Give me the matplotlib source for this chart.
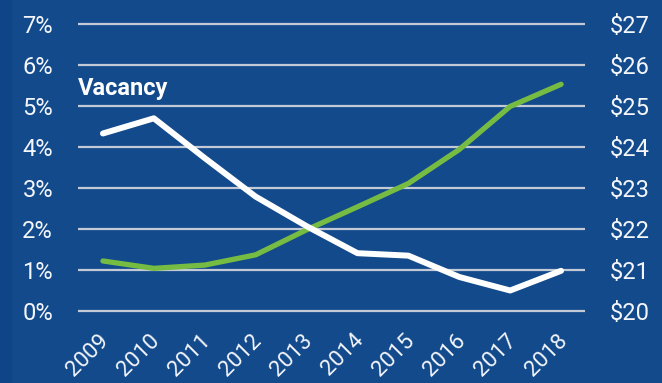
import matplotlib
matplotlib.use("Agg")
import matplotlib.pyplot as plt
from matplotlib.patches import Rectangle
from matplotlib.transforms import ScaledTranslation

plt.rcParams['font.family'] = ['Roboto', 'DejaVu Sans']

years = ["2009", "2010", "2011", "2012", "2013", "2014", "2015", "2016", "2017", "2018"]
vacancy_pct = [4.33, 4.70, 3.73, 2.79, 2.07, 1.41, 1.35, 0.83, 0.50, 0.98]
rent_usd = [21.22, 21.04, 21.12, 21.37, 21.98, 22.54, 23.11, 23.94, 24.99, 25.53]
pct_ticks = [0, 1, 2, 3, 4, 5, 6, 7]
pct_labels = [f"{v}%" for v in pct_ticks]
rent_ticks = [20, 21, 22, 23, 24, 25, 26, 27]
rent_labels = [f"${v}" for v in rent_ticks]

BG = "#124a8c"
GRID = "#c3cad6"
GREEN = "#76bc43"
TXT = "#f4f6fa"
FS = 17

W, H = 662, 383
fig = plt.figure(figsize=(W / 100, H / 100), dpi=100, facecolor=BG)
fig.patches.append(Rectangle((0, 0), 12 / W, 1, transform=fig.transFigure,
                             facecolor="#0f4588", edgecolor="none", zorder=0))

# axes box in pixels: x 78..585, y 19.9..315.1 (0%..7% at 311..24)
left, right = 78 / W, 585 / W
top, bottom = 1 - 19.9 / H, 1 - 315.1 / H
ax = fig.add_axes([left, bottom, right - left, top - bottom])
ax2 = ax.twinx()

x = list(range(len(years)))
ax.set_xlim(-0.49, 9.47)
ax.set_ylim(-0.1, 7.1)
ax2.set_ylim(19.9, 27.1)

for v in pct_ticks:
    ax2.axhline(20 + v, color=GRID, lw=1.6, zorder=1)

ax2.plot(x, rent_usd, color=GREEN, lw=3.8, solid_capstyle="round",
         solid_joinstyle="round", zorder=3)
ax.plot(x, vacancy_pct, color="white", lw=4.3, solid_capstyle="round",
        solid_joinstyle="round", zorder=4)
ax.set_zorder(ax2.get_zorder() + 1)
ax.patch.set_visible(False)
ax2.patch.set_visible(False)

ax.set_yticks(pct_ticks)
ax.set_yticklabels(pct_labels)
ax2.set_yticks(rent_ticks)
ax2.set_yticklabels(rent_labels)
ax.set_xticks(x)
ax.set_xticklabels(years, rotation=45, ha="right", va="center",
                   rotation_mode="anchor")

for a in (ax, ax2):
    for s in a.spines.values():
        s.set_visible(False)
    a.tick_params(length=0, colors=TXT, labelsize=FS)
ax.tick_params(axis="y", pad=18)
ax2.tick_params(axis="y", pad=18)
ax.tick_params(axis="x", pad=16, labelsize=16)

shift = ScaledTranslation(3 / 100, 0, fig.dpi_scale_trans)
for lbl in ax.get_xticklabels():
    lbl.set_transform(lbl.get_transform() + shift)

fig.text(78 / W, 1 - 88 / H, "Vacancy", color="white", fontsize=FS,
         fontweight="bold", ha="left", va="center")

fig.savefig("out.png", dpi=100, facecolor=BG)
